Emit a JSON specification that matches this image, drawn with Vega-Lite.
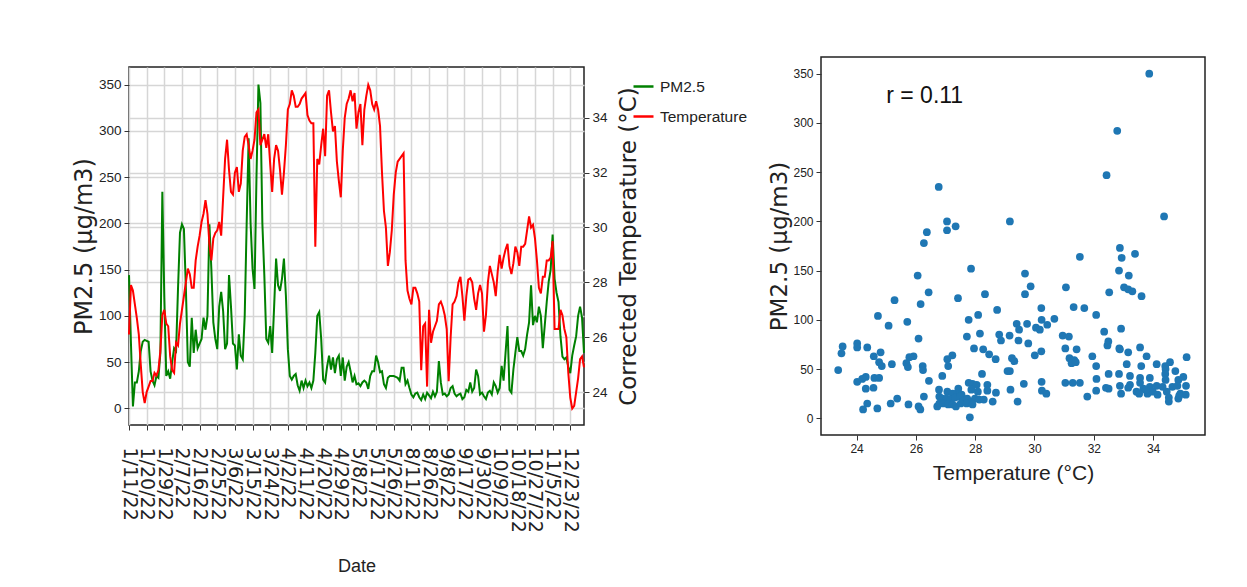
{
  "$schema": "https://vega.github.io/schema/vega-lite/v6.json",
  "background": "white",
  "padding": {"left": 71, "top": 56, "right": 0, "bottom": 0},
  "spacing": 237,
  "bounds": "flush",
  "center": true,
  "config": {
    "font": "DejaVu Sans",
    "view": {"stroke": "#222", "strokeWidth": 1.5},
    "axis": {"domain": false, "tickColor": "#333", "tickSize": 5, "tickWidth": 1, "labelColor": "#222", "titleColor": "#222", "titleFontWeight": "normal", "labelFont": "Liberation Sans", "gridColor": "#d6d6d6", "gridWidth": 1.5},
    "legend": {"orient": "none", "legendX": 503, "legendY": 18, "title": null, "symbolType": "stroke", "symbolStrokeWidth": 2.5, "symbolSize": 400, "labelFont": "Liberation Sans", "labelFontSize": 15.5, "labelColor": "#222", "rowPadding": 10, "labelOffset": 5, "padding": 0}
  },
  "datasets": {
    "ts": [
      {"date":"1/11/22","pm25":144,"temp":26.1},{"date":"1/12/22","pm25":70,"temp":27.9},{"date":"1/13/22","pm25":2,"temp":27.7},{"date":"1/14/22","pm25":28,"temp":27.2},{"date":"1/15/22","pm25":28,"temp":26.7},{"date":"1/16/22","pm25":40,"temp":26.1},{"date":"1/17/22","pm25":62,"temp":25.0},{"date":"1/18/22","pm25":72,"temp":24.0},{"date":"1/19/22","pm25":74,"temp":23.6},{"date":"1/20/22","pm25":73,"temp":24.0},
      {"date":"1/21/22","pm25":72,"temp":24.2},{"date":"1/22/22","pm25":40,"temp":24.4},{"date":"1/23/22","pm25":30,"temp":24.4},{"date":"1/24/22","pm25":25,"temp":24.7},{"date":"1/25/22","pm25":35,"temp":24.6},{"date":"1/26/22","pm25":33,"temp":24.8},{"date":"1/27/22","pm25":60,"temp":25.5},{"date":"1/28/22","pm25":234,"temp":26.8},{"date":"1/29/22","pm25":120,"temp":27.0},{"date":"1/30/22","pm25":35,"temp":26.5},
      {"date":"1/31/22","pm25":40,"temp":26.4},{"date":"2/1/22","pm25":32,"temp":25.3},{"date":"2/2/22","pm25":50,"temp":24.8},{"date":"2/3/22","pm25":65,"temp":24.7},{"date":"2/4/22","pm25":62,"temp":25.8},{"date":"2/5/22","pm25":130,"temp":25.7},{"date":"2/6/22","pm25":190,"temp":26.5},{"date":"2/7/22","pm25":199,"temp":27.0},{"date":"2/8/22","pm25":194,"temp":27.5},{"date":"2/9/22","pm25":130,"temp":28.0},
      {"date":"2/10/22","pm25":50,"temp":28.5},{"date":"2/11/22","pm25":45,"temp":28.3},{"date":"2/12/22","pm25":98,"temp":27.8},{"date":"2/13/22","pm25":60,"temp":27.8},{"date":"2/14/22","pm25":85,"temp":28.8},{"date":"2/15/22","pm25":65,"temp":29.3},{"date":"2/16/22","pm25":70,"temp":29.7},{"date":"2/17/22","pm25":75,"temp":30.2},{"date":"2/18/22","pm25":98,"temp":30.5},{"date":"2/19/22","pm25":85,"temp":31.0},
      {"date":"2/20/22","pm25":100,"temp":30.5},{"date":"2/21/22","pm25":199,"temp":29.4},{"date":"2/22/22","pm25":150,"temp":28.8},{"date":"2/23/22","pm25":93,"temp":29.6},{"date":"2/24/22","pm25":75,"temp":29.8},{"date":"2/25/22","pm25":64,"temp":29.9},{"date":"2/26/22","pm25":110,"temp":30.2},{"date":"2/27/22","pm25":126,"temp":29.7},{"date":"2/28/22","pm25":105,"temp":31.1},{"date":"3/1/22","pm25":64,"temp":32.5},
      {"date":"3/2/22","pm25":70,"temp":33.2},{"date":"3/3/22","pm25":144,"temp":32.1},{"date":"3/4/22","pm25":110,"temp":31.3},{"date":"3/5/22","pm25":70,"temp":31.2},{"date":"3/6/22","pm25":68,"temp":32.0},{"date":"3/7/22","pm25":42,"temp":32.2},{"date":"3/8/22","pm25":80,"temp":31.3},{"date":"3/9/22","pm25":57,"temp":31.6},{"date":"3/10/22","pm25":53,"temp":32.8},{"date":"3/11/22","pm25":100,"temp":33.3},
      {"date":"3/12/22","pm25":200,"temp":33.4},{"date":"3/13/22","pm25":292,"temp":33.0},{"date":"3/14/22","pm25":200,"temp":32.5},{"date":"3/15/22","pm25":151,"temp":32.8},{"date":"3/16/22","pm25":129,"temp":33.2},{"date":"3/17/22","pm25":250,"temp":34.2},{"date":"3/18/22","pm25":350,"temp":34.3},{"date":"3/19/22","pm25":330,"temp":33.0},{"date":"3/20/22","pm25":200,"temp":33.2},{"date":"3/21/22","pm25":144,"temp":33.4},
      {"date":"3/22/22","pm25":75,"temp":32.9},{"date":"3/23/22","pm25":71,"temp":33.4},{"date":"3/24/22","pm25":89,"temp":32.3},{"date":"3/25/22","pm25":60,"temp":31.3},{"date":"3/26/22","pm25":110,"temp":32.5},{"date":"3/27/22","pm25":162,"temp":33.0},{"date":"3/28/22","pm25":133,"temp":32.8},{"date":"3/29/22","pm25":127,"temp":32.1},{"date":"3/30/22","pm25":140,"temp":31.2},{"date":"3/31/22","pm25":162,"temp":32.0},
      {"date":"4/1/22","pm25":122,"temp":33.0},{"date":"4/2/22","pm25":64,"temp":34.3},{"date":"4/3/22","pm25":35,"temp":34.5},{"date":"4/4/22","pm25":31,"temp":35.0},{"date":"4/5/22","pm25":35,"temp":34.8},{"date":"4/6/22","pm25":37,"temp":34.4},{"date":"4/7/22","pm25":25,"temp":34.4},{"date":"4/8/22","pm25":19,"temp":34.5},{"date":"4/9/22","pm25":30,"temp":34.7},{"date":"4/10/22","pm25":22,"temp":34.8},
      {"date":"4/11/22","pm25":30,"temp":34.9},{"date":"4/12/22","pm25":24,"temp":34.1},{"date":"4/13/22","pm25":28,"temp":33.9},{"date":"4/14/22","pm25":22,"temp":33.8},{"date":"4/15/22","pm25":30,"temp":33.8},{"date":"4/16/22","pm25":60,"temp":29.3},{"date":"4/17/22","pm25":100,"temp":32.5},{"date":"4/18/22","pm25":104,"temp":32.3},{"date":"4/19/22","pm25":75,"temp":33.0},{"date":"4/20/22","pm25":31,"temp":33.6},
      {"date":"4/21/22","pm25":28,"temp":32.6},{"date":"4/22/22","pm25":45,"temp":34.8},{"date":"4/23/22","pm25":57,"temp":35.0},{"date":"4/24/22","pm25":42,"temp":34.2},{"date":"4/25/22","pm25":55,"temp":33.5},{"date":"4/26/22","pm25":38,"temp":33.7},{"date":"4/27/22","pm25":53,"temp":32.4},{"date":"4/28/22","pm25":57,"temp":31.7},{"date":"4/29/22","pm25":35,"temp":31.1},{"date":"4/30/22","pm25":55,"temp":32.8},
      {"date":"5/1/22","pm25":30,"temp":34.0},{"date":"5/2/22","pm25":45,"temp":34.5},{"date":"5/3/22","pm25":50,"temp":34.7},{"date":"5/4/22","pm25":40,"temp":35.0},{"date":"5/5/22","pm25":28,"temp":34.6},{"date":"5/6/22","pm25":35,"temp":34.9},{"date":"5/7/22","pm25":26,"temp":33.6},{"date":"5/8/22","pm25":27,"temp":34.2},{"date":"5/9/22","pm25":24,"temp":34.5},{"date":"5/10/22","pm25":28,"temp":33.0},
      {"date":"5/11/22","pm25":30,"temp":34.3},{"date":"5/12/22","pm25":28,"temp":34.8},{"date":"5/13/22","pm25":21,"temp":35.2},{"date":"5/14/22","pm25":35,"temp":35.0},{"date":"5/15/22","pm25":40,"temp":34.5},{"date":"5/16/22","pm25":40,"temp":34.3},{"date":"5/17/22","pm25":57,"temp":34.6},{"date":"5/18/22","pm25":50,"temp":34.3},{"date":"5/19/22","pm25":39,"temp":33.7},{"date":"5/20/22","pm25":40,"temp":32.0},
      {"date":"5/21/22","pm25":26,"temp":30.6},{"date":"5/22/22","pm25":22,"temp":30.0},{"date":"5/23/22","pm25":33,"temp":28.6},{"date":"5/24/22","pm25":35,"temp":29.1},{"date":"5/25/22","pm25":35,"temp":29.9},{"date":"5/26/22","pm25":35,"temp":31.2},{"date":"5/27/22","pm25":34,"temp":32.0},{"date":"5/28/22","pm25":33,"temp":32.4},{"date":"5/29/22","pm25":30,"temp":32.5},{"date":"5/30/22","pm25":44,"temp":32.6},
      {"date":"5/31/22","pm25":44,"temp":32.7},{"date":"6/1/22","pm25":26,"temp":28.8},{"date":"6/2/22","pm25":30,"temp":27.7},{"date":"8/10/22","pm25":22,"temp":27.4},{"date":"8/11/22","pm25":15,"temp":27.2},{"date":"8/12/22","pm25":12,"temp":27.8},{"date":"8/13/22","pm25":16,"temp":27.8},{"date":"8/14/22","pm25":17,"temp":27.6},{"date":"8/16/22","pm25":12,"temp":27.3},{"date":"8/18/22","pm25":9,"temp":24.8},
      {"date":"8/20/22","pm25":15,"temp":26.4},{"date":"8/22/22","pm25":10,"temp":26.5},{"date":"8/24/22","pm25":17,"temp":24.2},{"date":"8/26/22","pm25":14,"temp":27.0},{"date":"8/27/22","pm25":11,"temp":25.8},{"date":"8/28/22","pm25":18,"temp":26.2},{"date":"8/29/22","pm25":13,"temp":26.4},{"date":"8/31/22","pm25":18,"temp":26.6},{"date":"9/1/22","pm25":51,"temp":27.2},{"date":"9/3/22","pm25":28,"temp":27.3},
      {"date":"9/5/22","pm25":15,"temp":27.1},{"date":"9/6/22","pm25":16,"temp":26.8},{"date":"9/8/22","pm25":13,"temp":26.3},{"date":"9/9/22","pm25":15,"temp":24.4},{"date":"9/10/22","pm25":22,"temp":26.0},{"date":"9/11/22","pm25":24,"temp":27.2},{"date":"9/12/22","pm25":16,"temp":27.3},{"date":"9/13/22","pm25":13,"temp":27.5},{"date":"9/14/22","pm25":15,"temp":28.0},{"date":"9/15/22","pm25":16,"temp":28.2},
      {"date":"9/16/22","pm25":10,"temp":27.5},{"date":"9/17/22","pm25":12,"temp":26.6},{"date":"9/18/22","pm25":20,"temp":27.5},{"date":"9/19/22","pm25":18,"temp":28.1},{"date":"9/20/22","pm25":28,"temp":28.15},{"date":"9/22/22","pm25":18,"temp":28.0},{"date":"9/23/22","pm25":22,"temp":27.4},{"date":"9/25/22","pm25":42,"temp":27.0},{"date":"9/27/22","pm25":35,"temp":27.6},{"date":"9/28/22","pm25":15,"temp":27.9},
      {"date":"9/30/22","pm25":17,"temp":27.6},{"date":"10/1/22","pm25":13,"temp":26.2},{"date":"10/2/22","pm25":10,"temp":26.8},{"date":"10/3/22","pm25":17,"temp":28.0},{"date":"10/4/22","pm25":19,"temp":28.6},{"date":"10/5/22","pm25":15,"temp":28.3},{"date":"10/6/22","pm25":28,"temp":28.0},{"date":"10/7/22","pm25":24,"temp":27.5},{"date":"10/8/22","pm25":17,"temp":28.4},{"date":"10/9/22","pm25":22,"temp":29.0},
      {"date":"10/10/22","pm25":46,"temp":28.5},{"date":"10/11/22","pm25":30,"temp":28.9},{"date":"10/12/22","pm25":60,"temp":29.2},{"date":"10/13/22","pm25":89,"temp":29.4},{"date":"10/14/22","pm25":20,"temp":28.6},{"date":"10/15/22","pm25":17,"temp":28.3},{"date":"10/16/22","pm25":42,"temp":28.7},{"date":"10/17/22","pm25":60,"temp":29.3},{"date":"10/18/22","pm25":77,"temp":29.1},{"date":"10/19/22","pm25":62,"temp":28.6},
      {"date":"10/20/22","pm25":62,"temp":29.3},{"date":"10/21/22","pm25":57,"temp":29.3},{"date":"10/22/22","pm25":64,"temp":29.4},{"date":"10/23/22","pm25":80,"temp":29.9},{"date":"10/24/22","pm25":93,"temp":30.4},{"date":"10/25/22","pm25":133,"temp":30.0},{"date":"10/26/22","pm25":90,"temp":30.1},{"date":"10/27/22","pm25":100,"temp":29.6},{"date":"10/28/22","pm25":93,"temp":28.8},{"date":"10/29/22","pm25":110,"temp":27.8},
      {"date":"10/30/22","pm25":100,"temp":27.6},{"date":"10/31/22","pm25":65,"temp":28.2},{"date":"11/1/22","pm25":90,"temp":28.2},{"date":"11/2/22","pm25":115,"temp":28.8},{"date":"11/3/22","pm25":137,"temp":28.8},{"date":"11/4/22","pm25":150,"temp":28.9},{"date":"11/5/22","pm25":188,"temp":29.5},{"date":"11/6/22","pm25":140,"temp":26.3},{"date":"11/7/22","pm25":125,"temp":26.3},{"date":"11/8/22","pm25":115,"temp":26.3},
      {"date":"11/9/22","pm25":78,"temp":27.0},{"date":"11/10/22","pm25":56,"temp":26.8},{"date":"11/11/22","pm25":53,"temp":26.3},{"date":"11/12/22","pm25":55,"temp":26.0},{"date":"12/22/22","pm25":45,"temp":24.7},{"date":"12/23/22","pm25":38,"temp":23.8},{"date":"12/24/22","pm25":57,"temp":23.4},{"date":"12/25/22","pm25":68,"temp":23.5},{"date":"12/26/22","pm25":78,"temp":24.0},{"date":"12/27/22","pm25":100,"temp":24.5},
      {"date":"12/28/22","pm25":110,"temp":25.2},{"date":"12/29/22","pm25":98,"temp":25.3},{"date":"12/30/22","pm25":60,"temp":24.9}
    ],
    "sc": [
      {"temp":33.87,"pm25":350},{"temp":32.79,"pm25":292},{"temp":32.43,"pm25":247},{"temp":26.77,"pm25":235},{"temp":34.37,"pm25":205},{"temp":29.17,"pm25":200},{"temp":27.05,"pm25":200},{"temp":27.05,"pm25":191},{"temp":27.34,"pm25":195},{"temp":26.37,"pm25":189},
      {"temp":26.27,"pm25":178},{"temp":32.88,"pm25":173},{"temp":32.94,"pm25":163},{"temp":33.39,"pm25":167},{"temp":31.53,"pm25":164},{"temp":27.86,"pm25":152},{"temp":26.06,"pm25":145},{"temp":29.68,"pm25":147},{"temp":32.85,"pm25":150},{"temp":33.18,"pm25":145},
      {"temp":29.87,"pm25":134},{"temp":31.06,"pm25":133},{"temp":33.02,"pm25":133},{"temp":33.16,"pm25":131},{"temp":33.3,"pm25":129},{"temp":26.43,"pm25":128},{"temp":28.33,"pm25":126},{"temp":29.68,"pm25":126},{"temp":32.52,"pm25":128},{"temp":33.61,"pm25":124},
      {"temp":27.42,"pm25":122},{"temp":25.28,"pm25":120},{"temp":26.16,"pm25":116},{"temp":28.74,"pm25":110},{"temp":30.23,"pm25":112},{"temp":31.32,"pm25":113},{"temp":31.68,"pm25":112},{"temp":24.72,"pm25":104},{"temp":28.1,"pm25":105},{"temp":32.08,"pm25":105},
      {"temp":30.67,"pm25":101},{"temp":25.71,"pm25":98},{"temp":27.78,"pm25":100},{"temp":30.24,"pm25":100},{"temp":29.4,"pm25":96},{"temp":29.75,"pm25":96},{"temp":30.05,"pm25":92},{"temp":30.43,"pm25":95},{"temp":25.08,"pm25":94},{"temp":32.92,"pm25":91},
      {"temp":29.48,"pm25":90},{"temp":30.18,"pm25":90},{"temp":32.35,"pm25":88},{"temp":28.16,"pm25":86},{"temp":28.81,"pm25":85},{"temp":29.16,"pm25":84},{"temp":30.95,"pm25":84},{"temp":31.16,"pm25":83},{"temp":27.72,"pm25":83},{"temp":28.87,"pm25":79},
      {"temp":29.46,"pm25":79},{"temp":26.09,"pm25":81},{"temp":29.79,"pm25":76},{"temp":32.49,"pm25":78},{"temp":32.46,"pm25":74},{"temp":24.02,"pm25":76},{"temp":24.02,"pm25":72},{"temp":23.53,"pm25":73},{"temp":23.49,"pm25":66},{"temp":24.36,"pm25":72},
      {"temp":33.56,"pm25":72},{"temp":32.86,"pm25":71},{"temp":32.88,"pm25":70},{"temp":31.04,"pm25":71},{"temp":31.42,"pm25":70},{"temp":24.81,"pm25":67},{"temp":27.96,"pm25":71},{"temp":28.27,"pm25":70},{"temp":30.23,"pm25":68},{"temp":28.47,"pm25":65},
      {"temp":24.58,"pm25":63},{"temp":25.92,"pm25":63},{"temp":27.23,"pm25":64},{"temp":25.78,"pm25":62},{"temp":33.16,"pm25":67},{"temp":31.95,"pm25":63},{"temp":33.78,"pm25":63},{"temp":30.01,"pm25":64},{"temp":35.13,"pm25":62},{"temp":29.24,"pm25":61},
      {"temp":31.18,"pm25":61},{"temp":29.32,"pm25":58},{"temp":27.06,"pm25":60},{"temp":28.69,"pm25":60},{"temp":25.68,"pm25":56},{"temp":25.19,"pm25":55},{"temp":24.76,"pm25":57},{"temp":31.34,"pm25":59},{"temp":31.25,"pm25":56},{"temp":34.12,"pm25":55},
      {"temp":33.11,"pm25":55},{"temp":34.57,"pm25":57},{"temp":34.41,"pm25":53},{"temp":31.39,"pm25":57},{"temp":33.6,"pm25":53},{"temp":27.09,"pm25":53},{"temp":24.85,"pm25":53},{"temp":25.73,"pm25":52},{"temp":32.08,"pm25":53},{"temp":34.42,"pm25":50},
      {"temp":23.38,"pm25":49},{"temp":29.17,"pm25":48},{"temp":29.09,"pm25":48},{"temp":26.23,"pm25":53},{"temp":26.24,"pm25":49},{"temp":34.75,"pm25":48},{"temp":35.02,"pm25":42},{"temp":34.41,"pm25":45},{"temp":32.85,"pm25":45},{"temp":32.5,"pm25":45},
      {"temp":26.89,"pm25":43},{"temp":24.31,"pm25":42},{"temp":24.6,"pm25":41},{"temp":24.76,"pm25":41},{"temp":28.23,"pm25":45},{"temp":33.22,"pm25":43},{"temp":33.56,"pm25":41},{"temp":33.89,"pm25":41},{"temp":34.85,"pm25":39},{"temp":34.42,"pm25":39},
      {"temp":32.09,"pm25":40},{"temp":24.02,"pm25":37},{"temp":24.19,"pm25":40},{"temp":26.44,"pm25":38},{"temp":30.24,"pm25":37},{"temp":31.04,"pm25":36},{"temp":31.29,"pm25":36},{"temp":31.53,"pm25":36},{"temp":27.78,"pm25":36},{"temp":27.91,"pm25":35},
      {"temp":28.05,"pm25":34},{"temp":29.64,"pm25":35},{"temp":33.22,"pm25":34},{"temp":32.88,"pm25":33},{"temp":33.56,"pm25":36},{"temp":33.89,"pm25":32},{"temp":33.67,"pm25":30},{"temp":34.12,"pm25":33},{"temp":34.32,"pm25":32},{"temp":34.65,"pm25":32},
      {"temp":34.82,"pm25":33},{"temp":35.11,"pm25":33},{"temp":24.31,"pm25":30},{"temp":24.57,"pm25":31},{"temp":26.78,"pm25":29},{"temp":27.43,"pm25":30},{"temp":27.37,"pm25":25},{"temp":27.06,"pm25":27},{"temp":27.24,"pm25":25},{"temp":27.54,"pm25":24},
      {"temp":27.87,"pm25":29},{"temp":28.09,"pm25":27},{"temp":28.41,"pm25":34},{"temp":28.41,"pm25":28},{"temp":28.7,"pm25":26},{"temp":29.19,"pm25":29},{"temp":30.25,"pm25":28},{"temp":30.4,"pm25":25},{"temp":32.41,"pm25":31},{"temp":32.5,"pm25":30},
      {"temp":32.08,"pm25":28},{"temp":32.92,"pm25":25},{"temp":33.44,"pm25":27},{"temp":33.81,"pm25":25},{"temp":33.99,"pm25":27},{"temp":34.15,"pm25":24},{"temp":34.46,"pm25":27},{"temp":34.92,"pm25":25},{"temp":35.1,"pm25":24},{"temp":31.78,"pm25":22},
      {"temp":33.53,"pm25":25},{"temp":33.75,"pm25":29},{"temp":34.53,"pm25":21},{"temp":34.85,"pm25":20},{"temp":34.53,"pm25":17},{"temp":26.27,"pm25":22},{"temp":25.37,"pm25":20},{"temp":26.79,"pm25":22},{"temp":26.9,"pm25":20},{"temp":27.04,"pm25":20},
      {"temp":27.17,"pm25":19},{"temp":27.32,"pm25":21},{"temp":27.49,"pm25":22},{"temp":27.6,"pm25":18},{"temp":27.73,"pm25":20},{"temp":27.87,"pm25":17},{"temp":27.99,"pm25":20},{"temp":28.14,"pm25":19},{"temp":28.29,"pm25":19},{"temp":28.59,"pm25":17},
      {"temp":29.43,"pm25":17},{"temp":25.15,"pm25":15},{"temp":24.36,"pm25":15},{"temp":25.75,"pm25":14},{"temp":26.09,"pm25":12},{"temp":26.15,"pm25":9},{"temp":24.22,"pm25":9},{"temp":24.7,"pm25":10},{"temp":26.72,"pm25":12},{"temp":26.79,"pm25":15},
      {"temp":26.92,"pm25":15},{"temp":27.09,"pm25":14},{"temp":27.23,"pm25":14},{"temp":27.35,"pm25":12},{"temp":27.51,"pm25":15},{"temp":27.71,"pm25":15},{"temp":27.91,"pm25":14},{"temp":27.82,"pm25":1},{"temp":34.88,"pm25":23},{"temp":33.16,"pm25":31}
    ]
  },
  "hconcat": [
    {
      "width": 455,
      "height": 358,
      "data": {"name": "ts"},
      "encoding": {
        "x": {"field": "date", "type": "ordinal", "sort": null, "scale": {"type": "point", "padding": 0},
          "axis": {"values": ["1/11/22","1/20/22","1/29/22","2/7/22","2/16/22","2/25/22","3/6/22","3/15/22","3/24/22","4/2/22","4/11/22","4/20/22","4/29/22","5/8/22","5/17/22","5/26/22","8/11/22","8/26/22","9/8/22","9/17/22","9/30/22","10/9/22","10/18/22","10/27/22","11/5/22","12/23/22"],
            "labelAngle": 90, "labelFont": "DejaVu Sans", "labelFontSize": 19, "labelPadding": 17, "labelOverlap": false, "grid": true,
            "title": "Date", "titleFont": "Liberation Sans", "titleFontSize": 18, "titlePadding": 25}}
      },
      "layer": [
        {
          "mark": {"type": "line", "strokeWidth": 2},
          "encoding": {
            "y": {"field": "pm25", "type": "quantitative", "scale": {"domain": [-18, 369], "nice": false, "zero": false},
              "axis": {"values": [0,50,100,150,200,250,300,350], "grid": true, "title": "PM2.5 (μg/m3)", "titleFontSize": 24, "labelFontSize": 13.5, "labelPadding": 3, "titlePadding": 2}},
            "color": {"datum": "PM2.5", "type": "nominal", "scale": {"domain": ["PM2.5", "Temperature"], "range": ["green", "red"]}}
          }
        },
        {
          "mark": {"type": "line", "strokeWidth": 2},
          "encoding": {
            "y": {"field": "temp", "type": "quantitative", "scale": {"domain": [22.8, 35.85], "nice": false, "zero": false},
              "axis": {"orient": "right", "values": [24,26,28,30,32,34], "grid": true, "title": "Corrected Temperature (°C)", "titleAngle": 270, "titleBaseline": "top", "titleFontSize": 23, "labelFontSize": 13.5, "labelPadding": 3, "titlePadding": 10}},
            "color": {"datum": "Temperature", "type": "nominal"}
          }
        }
      ],
      "resolve": {"scale": {"y": "independent"}}
    },
    {
      "width": 384,
      "height": 378,
      "layer": [
        {
          "data": {"name": "sc"},
          "mark": {"type": "circle", "size": 60, "color": "#1f77b4", "opacity": 1},
          "encoding": {
            "x": {"field": "temp", "type": "quantitative", "scale": {"domain": [22.8, 35.75], "nice": false, "zero": false},
              "axis": {"values": [24,26,28,30,32,34], "grid": false, "labelFontSize": 12, "labelPadding": 3, "title": "Temperature (°C)", "titleFont": "Liberation Sans", "titleFontSize": 21, "titlePadding": 8}},
            "y": {"field": "pm25", "type": "quantitative", "scale": {"domain": [-17, 367], "nice": false, "zero": false},
              "axis": {"values": [0,50,100,150,200,250,300,350], "grid": false, "labelFontSize": 12, "labelPadding": 3, "title": "PM2.5 (μg/m3)", "titleFontSize": 23, "titlePadding": 1}}
          }
        },
        {
          "data": {"values": [{"label": "r = 0.11"}]},
          "mark": {"type": "text", "align": "left", "baseline": "middle", "font": "Liberation Sans", "fontSize": 23, "color": "#111"},
          "encoding": {
            "x": {"datum": 25.0, "type": "quantitative"},
            "y": {"datum": 327, "type": "quantitative"},
            "text": {"field": "label"}
          }
        }
      ]
    }
  ]
}
